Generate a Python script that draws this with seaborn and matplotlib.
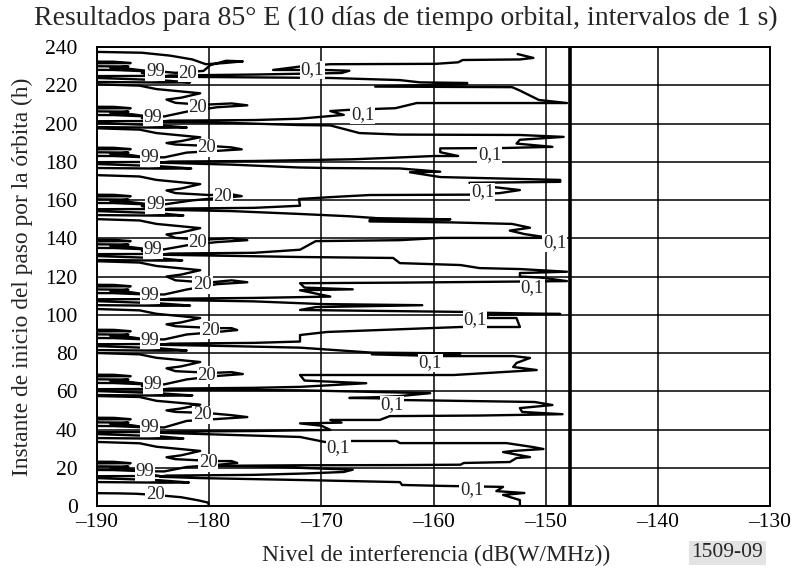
import matplotlib
matplotlib.use("Agg")
import matplotlib.pyplot as plt
import pandas as pd
import seaborn as sns

# ---------------- data ----------------
# 0,1 % contour
x_p01 = [-152.3, -152.3, -153.8, -151.9, -154.4, -153.8, -159.0, -162.8, -163.0, -171.9,
         -180.8, -184.4, -183.8, -176.0, -171.5, -168.0, -167.2, -171.0, -175.0, -179.5,
         -172.0, -163.0, -157.6, -157.3, -153.2, -152.6, -151.4, -153.8, -152.9, -150.2,
         -151.1, -153.5, -163.0, -163.3, -167.5, -169.7, -171.9, -178.0, -184.4, -183.5,
         -176.0, -169.2, -170.0, -171.9, -168.2, -169.2, -164.8, -163.9, -156.0, -148.5,
         -152.1, -152.3, -149.4, -151.0, -162.7, -165.0, -167.5, -165.0, -163.0, -160.3,
         -165.0, -171.9, -180.0, -184.4, -183.5, -176.0, -171.9, -166.0, -171.5, -171.9,
         -158.2, -150.8, -152.9, -152.6, -151.4, -152.9, -159.4, -165.5, -157.6, -165.5,
         -171.9, -178.0, -184.4, -183.5, -176.0, -171.9, -171.9, -169.5, -157.6, -152.3,
         -152.6, -155.2, -155.2, -148.7, -155.0, -157.5, -171.9, -170.5, -161.0, -170.0,
         -176.0, -184.4, -183.5, -176.0, -169.2, -171.9, -167.2, -171.5, -171.9, -163.0,
         -155.0, -148.1, -150.5, -152.3, -152.3, -148.1, -152.3, -155.9, -157.6, -163.0,
         -163.6, -171.9, -178.0, -184.4, -183.5, -176.0, -171.9, -170.5, -163.0, -159.4,
         -149.6, -150.2, -151.9, -153.2, -151.4, -153.0, -158.5, -165.7, -165.7, -158.5,
         -165.0, -167.5, -171.9, -178.0, -184.4, -183.5, -176.0, -171.9, -172.0, -169.2,
         -165.7, -156.8, -154.1, -152.3, -155.0, -156.8, -148.7, -148.7, -159.4, -162.1,
         -159.4, -163.0, -169.2, -172.0, -178.0, -184.4, -183.5, -176.0, -172.0, -167.2,
         -164.0, -160.0, -157.8, -159.4, -159.4, -153.6, -149.4, -152.6, -152.3, -148.4,
         -152.3, -163.0, -166.6, -169.2, -172.0, -178.0, -184.4, -183.5, -176.0, -172.0,
         -168.0, -169.2, -167.7, -163.4, -161.5, -148.1, -150.6, -152.4, -153.0, -165.2,
         -157.0, -157.0, -161.2, -163.0, -169.2, -178.0, -184.4, -183.5, -176.0, -172.0,
         -168.2, -167.5, -169.8, -174.3, -171.6, -169.2, -159.8, -157.8, -157.4, -152.3,
         -151.1, -152.5]
y_p01 = [0.0, 3.1, 5.8, 6.8, 7.8, 10.0, 10.5, 11.0, 12.5, 13.6,
         14.6, 15.3, 15.9, 16.3, 17.0, 17.8, 19.0, 19.8, 20.6, 21.0,
         21.3, 21.4, 21.6, 22.5, 23.0, 25.1, 25.6, 28.2, 28.8, 29.8,
         30.8, 32.9, 32.9, 34.0, 34.0, 33.5, 36.1, 37.2, 38.3, 38.9,
         39.2, 39.8, 42.0, 43.2, 43.6, 45.0, 45.0, 47.0, 47.3, 48.0,
         49.2, 51.2, 52.8, 54.4, 55.4, 56.3, 56.5, 56.9, 57.5, 59.0,
         59.6, 60.5, 60.7, 60.8, 61.4, 61.8, 62.3, 64.2, 65.6, 68.5,
         68.5, 71.1, 72.7, 74.8, 77.4, 78.4, 78.4, 79.3, 79.8, 80.2,
         82.8, 83.6, 84.3, 84.9, 85.3, 86.0, 89.4, 91.0, 93.6, 93.6,
         98.3, 98.3, 100.0, 100.4, 101.0, 101.5, 102.5, 104.0, 105.0, 105.6,
         107.0, 107.8, 108.4, 108.8, 109.5, 112.8, 113.3, 114.2, 116.5, 116.8,
         117.2, 117.6, 119.5, 120.0, 121.8, 122.5, 123.9, 124.4, 126.0, 127.0,
         129.7, 130.2, 130.8, 131.4, 132.0, 132.4, 134.0, 138.5, 139.0, 140.2,
         140.2, 140.7, 142.2, 144.0, 145.5, 147.5, 148.3, 148.8, 149.5, 149.9,
         150.5, 151.5, 152.7, 154.2, 154.9, 155.5, 155.9, 157.0, 160.5, 161.5,
         162.6, 162.8, 163.6, 165.2, 167.0, 169.0, 169.5, 170.5, 172.0, 174.5,
         174.8, 176.5, 176.7, 177.0, 178.5, 179.5, 180.1, 180.4, 180.8, 181.3,
         182.0, 183.0, 183.0, 185.0, 187.0, 187.2, 187.8, 189.5, 191.5, 193.0,
         194.0, 194.2, 195.0, 199.0, 199.2, 200.3, 200.9, 201.5, 201.8, 202.5,
         204.5, 206.5, 207.1, 208.0, 210.7, 210.7, 212.3, 217.5, 219.0, 219.3,
         220.6, 221.2, 221.5, 222.7, 223.8, 224.2, 224.5, 225.1, 225.6, 226.0,
         226.4, 227.6, 228.0, 228.0, 230.0, 231.0, 231.2, 232.0, 233.2, 233.5,
         234.3, 236.3]

# 20 % contour
x_p20 = [-180.0, -180.1, -181.0, -182.5, -184.8, -186.5, -188.0, -195.0,
         -195.0, -188.5, -186.0, -184.0, -182.0, -179.3, -177.5, -178.0, -179.6, -183.0, -183.8, -182.5, -180.8, -184.7, -186.2, -190.0, -195.0,
         -195.0, -188.5, -186.0, -184.0, -182.0, -179.3, -176.6, -178.0, -180.1, -183.0, -183.8, -182.5, -180.8, -184.7, -186.2, -190.0, -195.0,
         -195.0, -188.5, -186.0, -184.0, -182.0, -179.3, -177.0, -178.0, -179.7, -183.0, -183.8, -182.5, -180.8, -184.7, -186.2, -190.0, -195.0,
         -195.0, -188.5, -186.0, -184.0, -182.0, -179.3, -177.5, -178.0, -179.4, -183.0, -183.8, -182.5, -180.8, -184.7, -186.2, -190.0, -195.0,
         -195.0, -188.5, -186.0, -184.0, -182.0, -179.3, -176.6, -178.0, -180.1, -183.0, -183.8, -182.5, -180.8, -184.7, -186.2, -190.0, -195.0,
         -195.0, -188.5, -186.0, -184.0, -182.0, -179.3, -176.6, -178.0, -180.5, -183.0, -183.8, -182.5, -180.8, -184.7, -186.2, -190.0, -195.0,
         -195.0, -188.5, -186.0, -184.0, -181.5, -179.3, -177.1, -178.0, -180.0, -183.0, -183.8, -182.5, -180.8, -184.7, -186.2, -190.0, -195.0,
         -195.0, -188.5, -186.0, -184.0, -182.0, -179.3, -177.1, -178.0, -179.7, -183.0, -183.8, -182.5, -180.8, -184.7, -186.2, -190.0, -195.0,
         -195.0, -188.5, -186.0, -184.0, -182.0, -179.3, -176.6, -178.0, -180.5, -183.0, -183.8, -182.5, -180.8, -184.7, -186.2, -190.0, -195.0,
         -195.0, -188.5, -186.0, -184.0, -183.0, -180.5, -179.9, -178.5, -177.0, -178.7, -180.3, -181.5, -183.5, -186.0, -195.0]
y_p20 = [0.0, 1.8, 3.0, 4.6, 5.8, 6.4, 6.6, 7.0,
         19.0, 18.8, 18.2, 18.1, 20.4, 21.5, 22.5, 23.5, 23.5, 24.5, 25.5, 26.5, 28.8, 31.0, 32.8, 33.5, 33.5,
         42.0, 41.8, 41.2, 41.1, 44.5, 45.5, 46.5, 47.5, 48.6, 49.2, 50.0, 51.0, 53.0, 55.0, 57.0, 57.5, 57.5,
         64.5, 64.3, 63.7, 63.6, 66.2, 68.0, 69.0, 70.0, 69.6, 70.5, 72.0, 73.0, 75.3, 77.5, 79.3, 80.0, 80.0,
         88.0, 87.8, 87.2, 87.1, 89.7, 91.0, 92.0, 93.0, 93.0, 94.0, 95.0, 96.0, 98.3, 100.5, 102.3, 103.0, 103.0,
         111.5, 111.3, 110.7, 110.6, 113.2, 116.0, 117.0, 118.0, 116.8, 118.0, 120.0, 121.0, 123.3, 125.5, 127.3, 128.0, 128.0,
         135.1, 134.9, 134.3, 134.2, 136.3, 138.0, 139.0, 140.0, 139.2, 140.2, 142.0, 143.0, 145.3, 147.5, 149.3, 150.0, 150.0,
         158.6, 158.4, 157.8, 157.7, 159.8, 161.0, 162.0, 163.0, 162.6, 163.6, 165.0, 166.0, 168.3, 170.5, 172.3, 173.0, 173.0,
         183.2, 183.0, 182.4, 182.3, 184.8, 185.7, 186.5, 187.5, 188.2, 189.0, 189.8, 190.8, 192.8, 195.0, 196.8, 197.5, 197.5,
         204.6, 204.4, 203.8, 203.7, 206.2, 208.5, 209.5, 210.5, 209.8, 210.8, 212.5, 213.5, 215.8, 218.0, 219.8, 220.5, 220.5,
         228.2, 228.0, 227.4, 227.0, 226.5, 227.5, 230.5, 232.8, 232.5, 231.6, 231.0, 233.5, 235.5, 237.0, 238.0]

# 99 % contour
x_p99 = [-195.0, -184.0, -181.8, -184.5, -190.0, -195.0, -195.0, -184.4, -186.0, -185.7, -187.0, -188.8, -187.2, -195.0, -195.0, -187.0, -188.5, -195.0,
         -195.0, -184.0, -182.3, -184.5, -190.0, -195.0, -195.0, -184.4, -186.0, -185.3, -187.0, -188.8, -187.2, -195.0, -195.0, -187.0, -188.5, -195.0,
         -195.0, -184.0, -181.5, -184.5, -190.0, -195.0, -195.0, -184.4, -186.0, -185.0, -187.0, -188.8, -187.2, -195.0, -195.0, -187.0, -188.5, -195.0,
         -195.0, -184.0, -182.0, -184.5, -190.0, -195.0, -195.0, -184.4, -186.0, -185.3, -187.0, -188.8, -187.2, -195.0, -195.0, -187.0, -188.5, -195.0,
         -195.0, -184.0, -181.7, -184.5, -190.0, -195.0, -195.0, -184.4, -186.0, -185.3, -187.0, -188.8, -187.2, -195.0, -195.0, -187.0, -188.5, -195.0,
         -195.0, -184.0, -182.4, -184.5, -190.0, -195.0, -195.0, -184.4, -186.0, -185.0, -187.0, -188.8, -187.2, -195.0, -195.0, -187.0, -188.5, -195.0,
         -195.0, -184.0, -182.3, -184.5, -190.0, -195.0, -195.0, -184.4, -186.0, -184.8, -187.0, -188.8, -187.2, -195.0, -195.0, -187.0, -188.5, -195.0,
         -195.0, -184.0, -181.6, -184.5, -190.0, -195.0, -195.0, -184.4, -186.0, -185.3, -187.0, -188.8, -187.2, -195.0, -195.0, -187.0, -188.5, -195.0,
         -195.0, -184.0, -182.0, -184.5, -190.0, -195.0, -195.0, -184.4, -186.0, -185.0, -187.0, -188.8, -187.2, -195.0, -195.0, -187.0, -188.5, -195.0,
         -195.0, -184.0, -181.7, -184.5, -190.0, -195.0, -195.0, -184.4, -186.0, -184.8, -187.0, -188.8, -187.2, -195.0, -195.0, -187.0, -188.5, -195.0]
y_p99 = [12.8, 12.2, 12.3, 13.5, 14.6, 14.8, 15.5, 15.7, 17.2, 17.8, 19.3, 19.8, 20.6, 21.0, 22.1, 22.4, 23.1, 23.3,
         35.8, 35.2, 35.3, 36.5, 37.6, 37.8, 38.5, 38.7, 40.2, 40.8, 42.3, 42.8, 43.6, 44.0, 45.1, 45.4, 46.1, 46.3,
         58.3, 57.7, 57.8, 59.0, 60.1, 60.3, 61.0, 61.2, 62.7, 63.3, 64.8, 65.3, 66.1, 66.5, 67.6, 67.9, 68.6, 68.8,
         81.8, 81.2, 81.3, 82.5, 83.6, 83.8, 84.5, 84.7, 86.2, 86.8, 88.3, 88.8, 89.6, 90.0, 91.1, 91.4, 92.1, 92.3,
         105.3, 104.7, 104.8, 106.0, 107.1, 107.3, 108.0, 108.2, 109.7, 110.3, 111.8, 112.3, 113.1, 113.5, 114.6, 114.9, 115.6, 115.8,
         128.9, 128.3, 128.4, 129.6, 130.7, 130.9, 131.6, 131.8, 133.3, 133.9, 135.4, 135.9, 136.7, 137.1, 138.2, 138.5, 139.2, 139.4,
         152.4, 151.8, 151.9, 153.1, 154.2, 154.4, 155.1, 155.3, 156.8, 157.4, 158.9, 159.4, 160.2, 160.6, 161.7, 162.0, 162.7, 162.9,
         177.0, 176.4, 176.5, 177.7, 178.8, 179.0, 179.7, 179.9, 181.4, 182.0, 183.5, 184.0, 184.8, 185.2, 186.3, 186.6, 187.3, 187.5,
         198.4, 197.8, 197.9, 199.1, 200.2, 200.4, 201.1, 201.3, 202.8, 203.4, 204.9, 205.4, 206.2, 206.6, 207.7, 208.0, 208.7, 208.9,
         222.0, 221.4, 221.5, 222.7, 223.8, 224.0, 224.7, 224.9, 226.4, 227.0, 228.5, 229.0, 229.8, 230.2, 231.3, 231.6, 232.3, 232.5]

# contour label positions
lab99_x = [-185.7, -185.3, -185.0, -185.3, -185.3, -185.0, -184.8, -185.3, -185.0, -184.8]
lab99_y = [17.8, 40.8, 63.3, 86.8, 110.3, 133.9, 157.4, 182.0, 203.4, 227.0]
lab20_x = [-184.8, -180.1, -180.6, -180.2, -179.9, -180.6, -181.0, -178.8, -180.2, -181.0, -181.9]
lab20_y = [5.8, 22.5, 47.6, 68.5, 92.0, 115.6, 138.0, 161.6, 187.2, 208.6, 226.4]
lab01_x = [-156.6, -168.5, -163.7, -160.3, -156.3, -151.2, -149.2, -155.6, -155.0, -166.3, -170.8]
lab01_y = [8.4, 30.3, 52.8, 74.8, 97.3, 114.0, 137.5, 164.2, 183.5, 204.4, 228.0]

x_ticks = [-190, -180, -170, -160, -150, -140, -130]
x_tick_labels = ["\u2013190", "\u2013180", "\u2013170", "\u2013160", "\u2013150", "\u2013140", "\u2013130"]
y_ticks = [0, 20, 40, 60, 80, 100, 120, 140, 160, 180, 200, 220, 240]
ref_level = -147.8

title = "Resultados para 85° E (10 días de tiempo orbital, intervalos de 1 s)"
xlabel = "Nivel de interferencia (dB(W/MHz))"
ylabel = "Instante de inicio del paso por la órbita (h)"
fig_id = "1509-09"

# ---------------- plotting ----------------
sns.set_style("white")
plt.rcParams["font.family"] = ["Liberation Serif", "DejaVu Serif"]

fig, ax = plt.subplots(figsize=(7.95, 5.76), dpi=100)
fig.subplots_adjust(left=0.122, right=0.9686, bottom=0.1215, top=0.9184)

curves = [(x_p99, y_p99), (x_p20, y_p20), (x_p01, y_p01)]
for xs, ys in curves:
    df = pd.DataFrame({"x": xs, "y": ys})
    sns.lineplot(data=df, x="x", y="y", sort=False, estimator=None,
                 color="black", linewidth=1.7, ax=ax, zorder=3)

ax.axvline(ref_level, color="black", linewidth=2.6, zorder=3)

lab_kw = dict(ha="center", va="center", fontsize=13.5, zorder=6,
              bbox=dict(facecolor="white", edgecolor="none", pad=0.6))
for x, y in zip(lab99_x, lab99_y):
    ax.text(x, y, "99", **lab_kw)
for x, y in zip(lab20_x, lab20_y):
    ax.text(x, y, "20", **lab_kw)
for x, y in zip(lab01_x, lab01_y):
    ax.text(x, y, "0,1", **lab_kw)

ax.set_xlim(-190, -130)
ax.set_ylim(0, 240)
ax.set_xticks(x_ticks)
ax.set_xticklabels(x_tick_labels)
ax.set_yticks(y_ticks)
ax.tick_params(axis="both", length=0, labelsize=15.5, colors="black")
ax.tick_params(axis="y", pad=14)
ax.tick_params(axis="x", pad=5)
ax.grid(True, color="black", linewidth=1.1)
ax.set_axisbelow(True)
for s in ax.spines.values():
    s.set_color("black")
    s.set_linewidth(1.4)
ax.set_xlabel("")
ax.set_ylabel("")

fig.text(0.511, 0.968, title, ha="center", va="center", fontsize=20)
fig.text(0.548, 0.036, xlabel, ha="center", va="center", fontsize=17)
fig.text(0.028, 0.52, ylabel, ha="center", va="center", rotation=90, fontsize=16.8)
fig.text(0.915, 0.04, fig_id, ha="center", va="center", fontsize=15.5,
         bbox=dict(facecolor="#e3e3e3", edgecolor="none", pad=2))

fig.savefig("out.png", dpi=100)
